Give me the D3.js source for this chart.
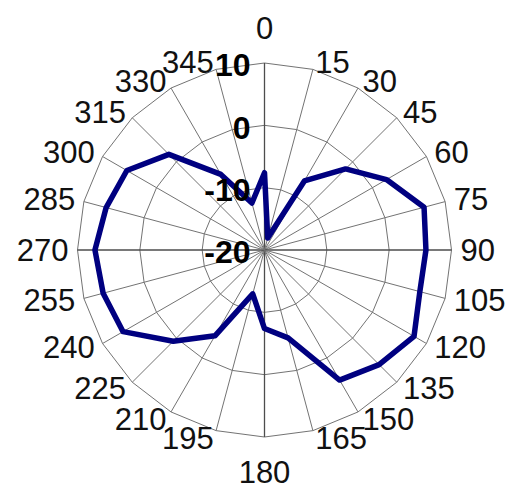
<!DOCTYPE html>
<html lang="en">
<head>
    <meta charset="UTF-8">
    <title>Radar chart</title>
    <script src="https://d3js.org/d3.v7.min.js"></script>
    <style>
        body {
            margin: 0;
            background: #fff;
            font-family: 'Liberation Sans', Arial, sans-serif;
        }
        .grid {
            fill: none;
            stroke: #737373;
            stroke-width: 1px;
        }
        .spoke {
            stroke: #737373;
            stroke-width: 1px;
        }
        .axis-main {
            stroke: #4d4d4d;
            stroke-width: 1.3px;
        }
        .series {
            fill: none;
            stroke: #000080;
            stroke-width: 5.5px;
            stroke-linejoin: round;
        }
        .angle-label {
            font-size: 31px;
            fill: #111;
        }
        .value-label {
            font-size: 32px;
            font-weight: bold;
            fill: #000;
        }
    </style>
</head>
<body>
    <div id="chart"></div>
    <script>
        const angles = [0, 15, 30, 45, 60, 75, 90, 105, 120, 135, 150, 165,
                        180, 195, 210, 225, 240, 255, 270, 285, 300, 315, 330, 345];
        const values = [-7.6, -18, -7.2, -1.6, 2.6, 6.5, 5.9, 5.8, 7.7, 6.0, 4.1, -5.4,
                        -7.4, -12.7, -4.1, 0.7, 6.2, 6.8, 7.2, 6.3, 5.5, 1.7, -6.0, -12.2];
        const ringTicks = [-20, -10, 0, 10];

        const width = 510, height = 493;
        const cx = 264.5, cy = 250, R = 187;

        const svg = d3.select("#chart").append("svg")
            .attr("width", width)
            .attr("height", height);

        const g = svg.append("g")
            .attr("transform", "translate(" + cx + "," + cy + ")");

        const r = d3.scaleLinear().domain([-20, 10]).range([0, R]);
        const toRad = d => d * Math.PI / 180;
        const px = (a, rad) => rad * Math.sin(toRad(a));
        const py = (a, rad) => -rad * Math.cos(toRad(a));

        // polygon rings
        const ring = d3.lineRadial()
            .angle(d => toRad(d))
            .curve(d3.curveLinearClosed);

        g.selectAll(".grid")
            .data(ringTicks.slice(1))
            .enter()
            .append("path")
            .attr("class", "grid")
            .attr("d", t => ring.radius(r(t))(angles));

        // spokes
        g.selectAll(".spoke")
            .data(angles)
            .enter()
            .append("line")
            .attr("class", d => d % 90 === 0 ? "spoke axis-main" : "spoke")
            .attr("x1", 0).attr("y1", 0)
            .attr("x2", d => px(d, R))
            .attr("y2", d => py(d, R));

        // data line
        const line = d3.lineRadial()
            .angle((d, i) => toRad(angles[i]))
            .radius(d => r(d))
            .curve(d3.curveLinearClosed);

        g.append("path")
            .attr("class", "series")
            .attr("d", line(values));

        // category labels
        g.selectAll(".angle-label")
            .data(angles)
            .enter()
            .append("text")
            .attr("class", "angle-label")
            .attr("x", d => (d % 180 === 0) ? 0 : px(d, 196))
            .attr("y", d => (d % 180 === 0) ? py(d, 222) : py(d, 195))
            .attr("dy", "0.35em")
            .attr("text-anchor", d => d % 180 === 0 ? "middle" : (d < 180 ? "start" : "end"))
            .text(d => d);

        // value axis labels
        g.selectAll(".value-label")
            .data(ringTicks)
            .enter()
            .append("text")
            .attr("class", "value-label")
            .attr("x", -14)
            .attr("y", d => -r(d) + 2)
            .attr("dy", "0.35em")
            .attr("text-anchor", "end")
            .text(d => d);
    </script>
</body>
</html>
